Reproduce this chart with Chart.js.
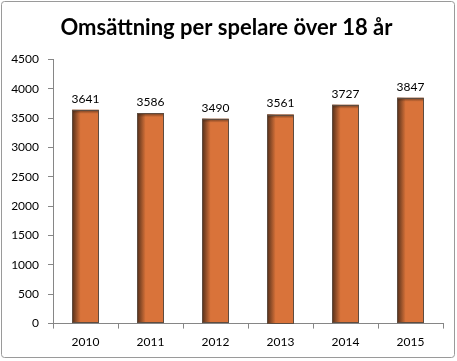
<!DOCTYPE html>
<html>
<head>
<meta charset="utf-8">
<script src="https://cdn.jsdelivr.net/npm/chart.js@4.4.0/dist/chart.umd.min.js"></script>
<style>
html,body{margin:0;padding:0;background:#fff;}
#wrap{position:absolute;left:0;top:0;width:457px;height:361px;}
</style>
</head>
<body>
<div id="wrap"><canvas id="c" width="457" height="361"></canvas></div>
<script>
const titleText = "Omsättning per spelare över 18 år";
const categories = ["2010", "2011", "2012", "2013", "2014", "2015"];
const values = [3641, 3586, 3490, 3561, 3727, 3847];
const yTicks = [0, 500, 1000, 1500, 2000, 2500, 3000, 3500, 4000, 4500];

const FONT = "Lato, 'Open Sans', sans-serif";

const framePlugin = {
  id: 'frame',
  beforeDraw(chart) {
    const ctx = chart.ctx;
    ctx.save();
    ctx.fillStyle = '#ffffff';
    ctx.fillRect(0, 0, chart.width, chart.height);
    ctx.strokeStyle = '#9a9a9a';
    ctx.lineWidth = 1;
    ctx.beginPath();
    ctx.roundRect(1.5, 1.5, chart.width - 4, chart.height - 5, 3);
    ctx.stroke();
    ctx.restore();
  }
};

const barShade = {
  id: 'barShade',
  afterDatasetsDraw(chart) {
    const ctx = chart.ctx;
    const meta = chart.getDatasetMeta(0);
    ctx.save();
    meta.data.forEach((bar, i) => {
      const left = bar.x - bar.width / 2;
      const top = bar.y;
      const bottom = bar.base;
      const g = ctx.createLinearGradient(left, 0, left + bar.width * 0.32, 0);
      g.addColorStop(0, 'rgba(60,35,20,0.85)');
      g.addColorStop(1, 'rgba(60,35,20,0)');
      ctx.fillStyle = g;
      ctx.fillRect(left, top, bar.width * 0.32, bottom - top);
      const g2 = ctx.createLinearGradient(0, top, 0, top + 4);
      g2.addColorStop(0, 'rgba(60,35,20,0.7)');
      g2.addColorStop(1, 'rgba(60,35,20,0)');
      ctx.fillStyle = g2;
      ctx.fillRect(left, top, bar.width, 4);
      ctx.strokeStyle = '#5e4c40';
      ctx.lineWidth = 1;
      ctx.strokeRect(Math.round(left) + 0.5, Math.round(top) + 0.5, Math.round(bar.width) - 1, Math.round(bottom - top) - 1);
      ctx.fillStyle = '#000000';
      ctx.font = '12px ' + FONT;
      ctx.textAlign = 'center';
      ctx.textBaseline = 'bottom';
      ctx.fillText(String(values[i]), bar.x, top - 5);
    });
    ctx.restore();
  }
};

new Chart(document.getElementById('c'), {
  type: 'bar',
  data: {
    labels: categories,
    datasets: [{
      data: values,
      backgroundColor: '#d9733a',
      borderWidth: 0,
      categoryPercentage: 1.0,
      barPercentage: 0.41
    }]
  },
  options: {
    responsive: false,
    animation: false,
    devicePixelRatio: 1,
    layout: { padding: { left: 10, right: 14, top: 0, bottom: 6 } },
    plugins: {
      legend: { display: false },
      tooltip: { enabled: false },
      title: {
        display: true,
        text: titleText,
        color: '#000000',
        font: { family: FONT, size: 22, weight: 'bold' },
        padding: { top: 15, bottom: 18 }
      }
    },
    scales: {
      x: {
        grid: { drawOnChartArea: false, drawTicks: true, tickLength: 5, color: '#868686', offset: true },
        border: { color: '#868686' },
        ticks: { color: '#000000', font: { family: FONT, size: 12 }, padding: 6 }
      },
      y: {
        min: 0,
        max: 4500,
        afterBuildTicks(scale) { scale.ticks = yTicks.map(v => ({ value: v })); },
        grid: { drawOnChartArea: false, drawTicks: true, tickLength: 5, color: '#868686' },
        border: { color: '#868686' },
        ticks: { color: '#000000', font: { family: FONT, size: 12 }, padding: 9, callback: v => String(v) },
        afterFit(scale) { scale.width = 43; }
      }
    }
  },
  plugins: [framePlugin, barShade]
});
</script>
</body>
</html>
